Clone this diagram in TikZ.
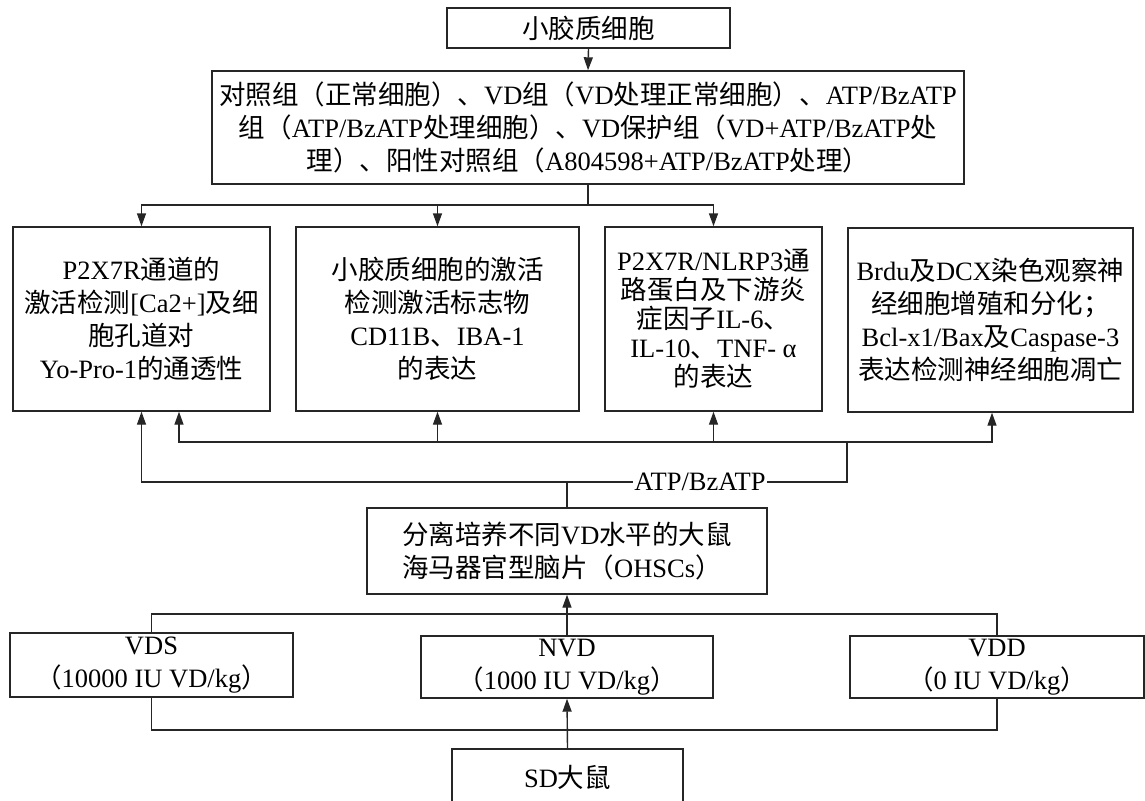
\documentclass[tikz,border=0pt]{standalone}
\usepackage{fontspec}
\setmainfont{Liberation Serif}
\newfontfamily\latinfont{Liberation Serif}
\newfontfamily\cjkfont{Noto Sans CJK SC}
\usetikzlibrary{arrows.meta}
\XeTeXinterchartokenstate=1
\newXeTeXintercharclass\CJKcls
\makeatletter
\def\setcjkrange#1#2{\count@=#1\relax\loop\XeTeXcharclass\count@=\CJKcls\ifnum\count@<#2\advance\count@ by 1\repeat}
\makeatother
\setcjkrange{"3000}{"303F}
\setcjkrange{"4E00}{"9FFF}
\setcjkrange{"FF00}{"FFEF}
\XeTeXinterchartoks 0 \CJKcls = {\cjkfont}
\XeTeXinterchartoks 4095 \CJKcls = {\cjkfont}
\XeTeXinterchartoks \CJKcls 0 = {\latinfont}
\XeTeXinterchartoks \CJKcls 4095 = {\latinfont}
\tikzset{
  box/.style={draw=black!85, fill=white, line width=1.4pt, align=center, inner sep=0pt,
    font=\fontsize{26.5}{33}\selectfont, text=black},
  conn/.style={draw=black!85, line width=1.4pt},
  arr/.style={conn, -{Triangle[length=13pt,width=9pt]}},
}
\begin{document}
\begin{tikzpicture}[x=1pt,y=-1pt]
\useasboundingbox (0,0) rectangle (1145,800);
\clip (0,0) rectangle (1145,800);
\fill[white] (0,0) rectangle (1145,800);

\node[box, minimum width=283, minimum height=40] (top) at (588.5,28) {小胶质细胞};
\node[box, minimum width=752, minimum height=113] (grp) at (588,127.5)
  {对照组（正常细胞）、VD组（VD处理正常细胞）、ATP/BzATP\\组（ATP/BzATP处理细胞）、VD保护组（VD+ATP/BzATP处\\理）、阳性对照组（A804598+ATP/BzATP处理）};

\node[box, minimum width=257, minimum height=184] (A) at (141.5,319)
  {P2X7R通道的\\激活检测[Ca2+]及细\\胞孔道对\\Yo-Pro-1的通透性};
\node[box, minimum width=283, minimum height=184] (B) at (437.5,319)
  {小胶质细胞的激活\\检测激活标志物\\CD11B、IBA-1\\的表达};
\node[box, minimum width=217, minimum height=184, font=\fontsize{26.5}{29}\selectfont] (C) at (713.5,319)
  {P2X7R/NLRP3通\\路蛋白及下游炎\\症因子IL-6、\\IL-10、TNF- α\\的表达};
\node[box, minimum width=285, minimum height=184] (D) at (990.5,320)
  {Brdu及DCX染色观察神\\经细胞增殖和分化；\\Bcl-x1/Bax及Caspase-3\\表达检测神经细胞凋亡};

\node[box, minimum width=400, minimum height=86, align=left] (OH) at (567,551)
  {分离培养不同VD水平的大鼠\\海马器官型脑片（OHSCs）};

\node[box, minimum width=283, minimum height=64] (VDS) at (151.5,665) {VDS\\（10000 IU VD/kg）};
\node[box, minimum width=292, minimum height=62] (NVD) at (567,667) {NVD\\（1000 IU VD/kg）};
\node[box, minimum width=294, minimum height=62] (VDD) at (997,667) {VDD\\（0 IU VD/kg）};
\node[box, minimum width=231, minimum height=56] (SD) at (567.5,777) {SD大鼠};

% top connectors
\draw[arr] (top.south) -- (grp.north);
\coordinate (j1) at (588,205);
\draw[conn] (grp.south) -- (j1);
\draw[arr] (j1) -| (A.north);
\draw[arr] (j1) -| (B.north);
\draw[arr] (j1) -| (C.north);

% ATP connectors
\coordinate (o) at (567,482);
\coordinate (k) at (847,442);
\draw[conn] (OH.north) -- (o);
\draw[arr] (o) -| (A.south);
\draw[conn] (o) -| (k);
\draw[arr] (k) -| ([xshift=37.5pt]A.south);
\draw[arr] (k) -| (B.south);
\draw[arr] (k) -| (C.south);
\draw[arr] (k) -| ([xshift=1.5pt]D.south);
\node[fill=white, inner sep=1pt, font=\fontsize{26.5}{33}\selectfont] (lab) at (700,482) {ATP/BzATP};

% bottom connectors
\coordinate (t) at (567,614);
\coordinate (b) at (567,730);
\draw[conn] (VDS.north) -- (VDS.north |- t) -- (VDD.north |- t) -- (VDD.north);
\draw[arr] (NVD.north) -- (OH.south);
\draw[conn] (VDS.south) -- (VDS.south |- b) -- (VDD.south |- b) -- (VDD.south);
\draw[arr] (SD.north) -- (NVD.south);
\end{tikzpicture}
\end{document}
